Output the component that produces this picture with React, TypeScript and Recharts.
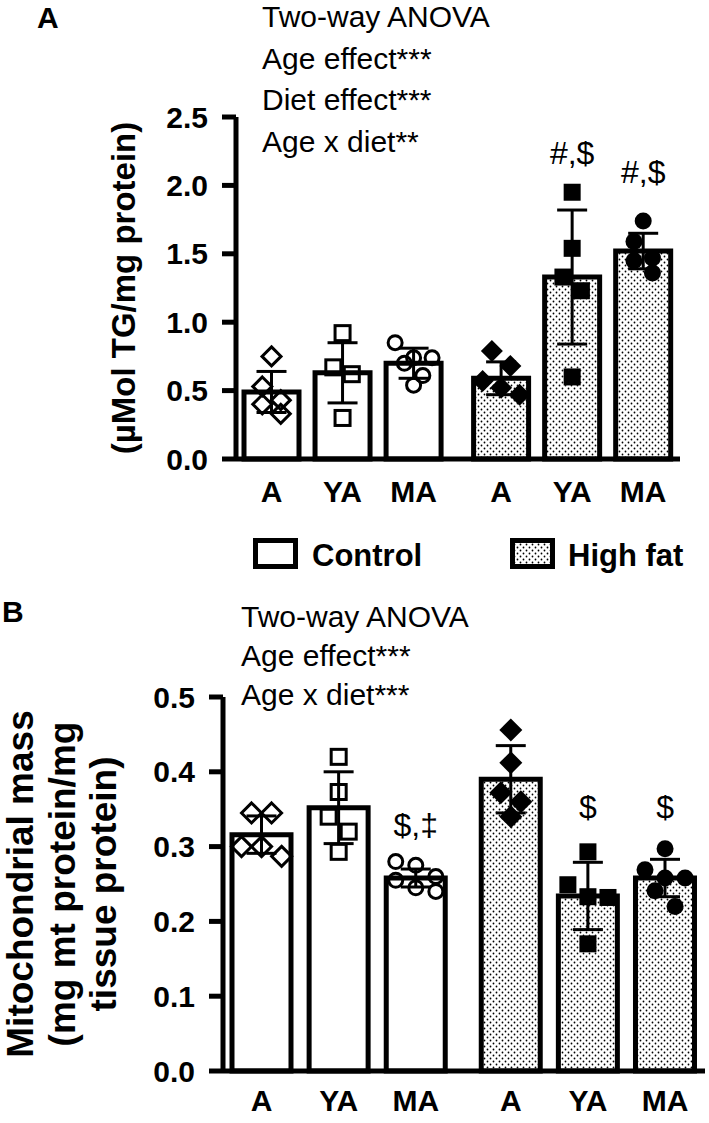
import React from "react";
import {
  Bar,
  Cell,
  ComposedChart,
  ErrorBar,
  Label,
  ReferenceDot,
  Scatter,
  XAxis,
  YAxis,
} from "recharts";

const FONT = "'Liberation Sans', Arial, Helvetica, sans-serif";

const ageGroups = ["A", "YA", "MA", "A", "YA", "MA"];
const markerKinds = ["diamond", "square", "circle", "diamond", "square", "circle"];
const highFat = [false, false, false, true, true, true];

// panel A: liver TG (µMol TG/mg protein)
const tgMean = [0.49, 0.63, 0.7, 0.59, 1.33, 1.52];
const tgSd = [0.15, 0.22, 0.11, 0.12, 0.49, 0.13];
const tgPoints = [
  [0.75, 0.53, 0.43, 0.4, 0.33],
  [0.92, 0.67, 0.62, 0.3],
  [0.85, 0.74, 0.74, 0.7, 0.61, 0.54],
  [0.79, 0.68, 0.57, 0.52, 0.47],
  [1.95, 1.54, 1.33, 1.23, 0.6],
  [1.74, 1.59, 1.47, 1.45, 1.36],
];
const tgTicks = [0, 0.5, 1, 1.5, 2, 2.5];
const tgMarks = [
  { bar: 4, y: 2.16, text: "#,$" },
  { bar: 5, y: 2.02, text: "#,$" },
];

// panel B: mitochondrial mass
const mitoMean = [0.316, 0.352, 0.258, 0.39, 0.234, 0.258];
const mitoSd = [0.025, 0.048, 0.012, 0.045, 0.045, 0.025];
const mitoPoints = [
  [0.345, 0.345, 0.3, 0.3, 0.287],
  [0.42, 0.373, 0.34, 0.32, 0.293],
  [0.28, 0.275, 0.26, 0.255, 0.245, 0.24],
  [0.456, 0.412, 0.372, 0.36, 0.34],
  [0.293, 0.249, 0.233, 0.232, 0.17],
  [0.297, 0.269, 0.258, 0.258, 0.241, 0.22],
];
const mitoTicks = [0, 0.1, 0.2, 0.3, 0.4, 0.5];
const mitoMarks = [
  { bar: 2, y: 0.314, text: "$,‡" },
  { bar: 4, y: 0.338, text: "$" },
  { bar: 5, y: 0.338, text: "$" },
];

// x slot of each bar, with a wider gap between the two diets
const slot = (i: number) => i + (i >= 3 ? 0.232 : 0);
const X_DOMAIN: [number, number] = [-0.5, 5.75];

// GraphPad-like scatter: points that would overlap go side by side
function spread(values: number[], center: number, rowGap: number, step: number) {
  const sorted = [...values].sort((a, b) => b - a);
  const rows: number[][] = [];
  sorted.forEach((v) => {
    const row = rows[rows.length - 1];
    if (row && row[0] - v < rowGap) row.push(v);
    else rows.push([v]);
  });
  return rows.flatMap((row) =>
    row.map((v, k) => ({ px: center + (k - (row.length - 1) / 2) * step, y: v }))
  );
}

function Marker({ cx, cy, kind, filled, big }: any) {
  if (cx == null || cy == null) return null;
  const fill = filled ? "#000" : "none";
  const sw = filled ? 0 : 3;
  if (kind === "diamond") {
    const r = filled ? (big ? 11.5 : 11) : big ? 10 : 9.5;
    return (
      <path
        d={`M${cx},${cy - r}L${cx + r},${cy}L${cx},${cy + r}L${cx - r},${cy}Z`}
        fill={fill}
        stroke="#000"
        strokeWidth={sw}
      />
    );
  }
  if (kind === "square") {
    const h = filled ? 8.5 : 7.5;
    return <rect x={cx - h} y={cy - h} width={h * 2} height={h * 2} fill={fill} stroke="#000" strokeWidth={sw} />;
  }
  const r = filled ? 8.5 : 7;
  return <circle cx={cx} cy={cy} r={r} fill={fill} stroke="#000" strokeWidth={sw} />;
}

function DotPattern({ id }: { id: string }) {
  return (
    <pattern id={id} width={6} height={6} patternUnits="userSpaceOnUse">
      <rect width={6} height={6} fill="#fff" />
      <circle cx={1.5} cy={1.5} r={0.9} fill="#000" />
      <circle cx={4.5} cy={4.5} r={0.9} fill="#000" />
    </pattern>
  );
}

type PanelProps = {
  id: string;
  top: number;
  height: number;
  plotTop: number;
  plotBottom: number;
  plotLeft: number;
  plotRight: number;
  yMax: number;
  ticks: number[];
  mean: number[];
  sd: number[];
  points: number[][];
  marks: { bar: number; y: number; text: string }[];
  barSize: number;
  labelDy: number;
  big: boolean;
  title: (axisX: number, midY: number) => React.ReactNode;
};

function Panel(p: PanelProps) {
  const width = 709;
  const yAxisW = 100;
  const xAxisH = 45;
  const margin = {
    top: p.plotTop - p.top,
    bottom: p.top + p.height - p.plotBottom - xAxisH,
    left: p.plotLeft - yAxisW,
    right: width - p.plotRight,
  };
  const bars = ageGroups.map((g, i) => ({ x: slot(i), mean: p.mean[i], sd: p.sd[i], hf: highFat[i] }));
  const rowGap = (17 * p.yMax) / (p.plotBottom - p.plotTop);
  const pts = p.points.map((vals, i) => spread(vals, slot(i), rowGap, 0.26));
  const patternId = `dots-${p.id}`;

  const XTick = (tp: any) => (
    <text
      x={tp.x}
      y={tp.y + p.labelDy}
      textAnchor="middle"
      fontFamily={FONT}
      fontWeight={700}
      fontSize={30}
      fill="#000"
    >
      {ageGroups[tp.index]}
    </text>
  );

  return (
    <div style={{ position: "absolute", left: 0, top: p.top, width, height: p.height }}>
      <ComposedChart width={width} height={p.height} data={bars} margin={margin}>
        <defs>
          <DotPattern id={patternId} />
        </defs>
        <XAxis
          type="number"
          dataKey="x"
          domain={X_DOMAIN}
          ticks={ageGroups.map((_, i) => slot(i))}
          interval={0}
          allowDataOverflow
          height={xAxisH}
          tickSize={0}
          tickMargin={0}
          tickLine={false}
          axisLine={{ stroke: "#000", strokeWidth: 5 }}
          tick={XTick}
        />
        <XAxis xAxisId="pts" type="number" dataKey="px" domain={X_DOMAIN} allowDataOverflow hide />
        <YAxis
          type="number"
          domain={[0, p.yMax]}
          ticks={p.ticks}
          interval={0}
          width={yAxisW}
          tickSize={14}
          tickMargin={14}
          tickFormatter={(v: number) => v.toFixed(1)}
          tick={{ fill: "#000", fontFamily: FONT, fontWeight: 700, fontSize: 30 }}
          axisLine={{ stroke: "#000", strokeWidth: 5 }}
          tickLine={{ stroke: "#000", strokeWidth: 5 }}
        >
          <Label
            content={(lp: any) => {
              const vb = lp.viewBox || {};
              return p.title(vb.x + vb.width, vb.y + vb.height / 2);
            }}
          />
        </YAxis>
        <Bar dataKey="mean" barSize={p.barSize} stroke="#000" strokeWidth={5} isAnimationActive={false}>
          {bars.map((d, i) => (
            <Cell key={i} fill={d.hf ? `url(#${patternId})` : "#fff"} />
          ))}
          <ErrorBar dataKey="sd" direction="y" width={15} stroke="#000" strokeWidth={3} isAnimationActive={false} />
        </Bar>
        {pts.map((data, i) => (
          <Scatter
            key={i}
            xAxisId="pts"
            data={data}
            dataKey="y"
            isAnimationActive={false}
            shape={(sp: any) => (
              <Marker cx={sp.cx} cy={sp.cy} kind={markerKinds[i]} filled={highFat[i]} big={p.big} />
            )}
          />
        ))}
        {p.marks.map((m, i) => (
          <ReferenceDot
            key={i}
            x={slot(m.bar)}
            y={m.y}
            r={0}
            ifOverflow="visible"
            shape={(dp: any) => (
              <text x={dp.cx} y={dp.cy} textAnchor="middle" fontFamily={FONT} fontSize={32} fill="#000">
                {m.text}
              </text>
            )}
          />
        ))}
      </ComposedChart>
    </div>
  );
}

const titleA = (axisX: number, midY: number) => {
  const x = axisX - 101;
  return (
    <text
      x={x}
      y={midY}
      transform={`rotate(-90, ${x}, ${midY})`}
      textAnchor="middle"
      fontFamily={FONT}
      fontWeight={700}
      fontSize={33}
      fill="#000"
    >
      (µMol TG/mg protein)
    </text>
  );
};

const titleBLines = ["Mitochondrial mass", "(mg mt protein/mg", "tissue protein)"];
const titleB = (axisX: number, midY: number) => (
  <g>
    {titleBLines.map((line, k) => {
      const x = axisX - 190 + k * 41.5;
      return (
        <text
          key={k}
          x={x}
          y={midY}
          transform={`rotate(-90, ${x}, ${midY})`}
          textAnchor="middle"
          fontFamily={FONT}
          fontWeight={700}
          fontSize={37}
          fill="#000"
        >
          {line}
        </text>
      );
    })}
  </g>
);

const anovaA = ["Two-way ANOVA", "Age effect***", "Diet effect***", "Age x diet**"];
const anovaB = ["Two-way ANOVA", "Age effect***", "Age x diet***"];

function Overlay() {
  return (
    <svg
      width={709}
      height={1123}
      style={{ position: "absolute", left: 0, top: 0, pointerEvents: "none" }}
    >
      <defs>
        <DotPattern id="dots-legend" />
      </defs>
      <g fontFamily={FONT} fill="#000">
        <text x={37} y={28} fontSize={30} fontWeight={700}>A</text>
        <text x={2} y={622} fontSize={30} fontWeight={700}>B</text>
        {anovaA.map((t, k) => (
          <text key={k} x={262} y={27 + k * 41.7} fontSize={30}>
            {t}
          </text>
        ))}
        {anovaB.map((t, k) => (
          <text key={k} x={241} y={627 + k * 39} fontSize={30}>
            {t}
          </text>
        ))}
        <rect x={255.5} y={540.5} width={40} height={26} fill="#fff" stroke="#000" strokeWidth={5} />
        <text x={312} y={566} fontSize={31} fontWeight={700}>Control</text>
        <rect x={512.5} y={540.5} width={40} height={26} fill="url(#dots-legend)" stroke="#000" strokeWidth={5} />
        <text x={568} y={566} fontSize={31} fontWeight={700}>High fat</text>
      </g>
    </svg>
  );
}

export default function App() {
  return (
    <div style={{ position: "absolute", left: 0, top: 0, width: 709, height: 1123, background: "#fff" }}>
      <Panel
        id="a"
        top={0}
        height={530}
        plotTop={117}
        plotBottom={459}
        plotLeft={236}
        plotRight={680}
        yMax={2.5}
        ticks={tgTicks}
        mean={tgMean}
        sd={tgSd}
        points={tgPoints}
        marks={tgMarks}
        barSize={55}
        labelDy={43}
        big={false}
        title={titleA}
      />
      <Panel
        id="b"
        top={580}
        height={543}
        plotTop={697}
        plotBottom={1071}
        plotLeft={223}
        plotRight={705}
        yMax={0.5}
        ticks={mitoTicks}
        mean={mitoMean}
        sd={mitoSd}
        points={mitoPoints}
        marks={mitoMarks}
        barSize={59}
        labelDy={40}
        big={true}
        title={titleB}
      />
      <Overlay />
    </div>
  );
}
